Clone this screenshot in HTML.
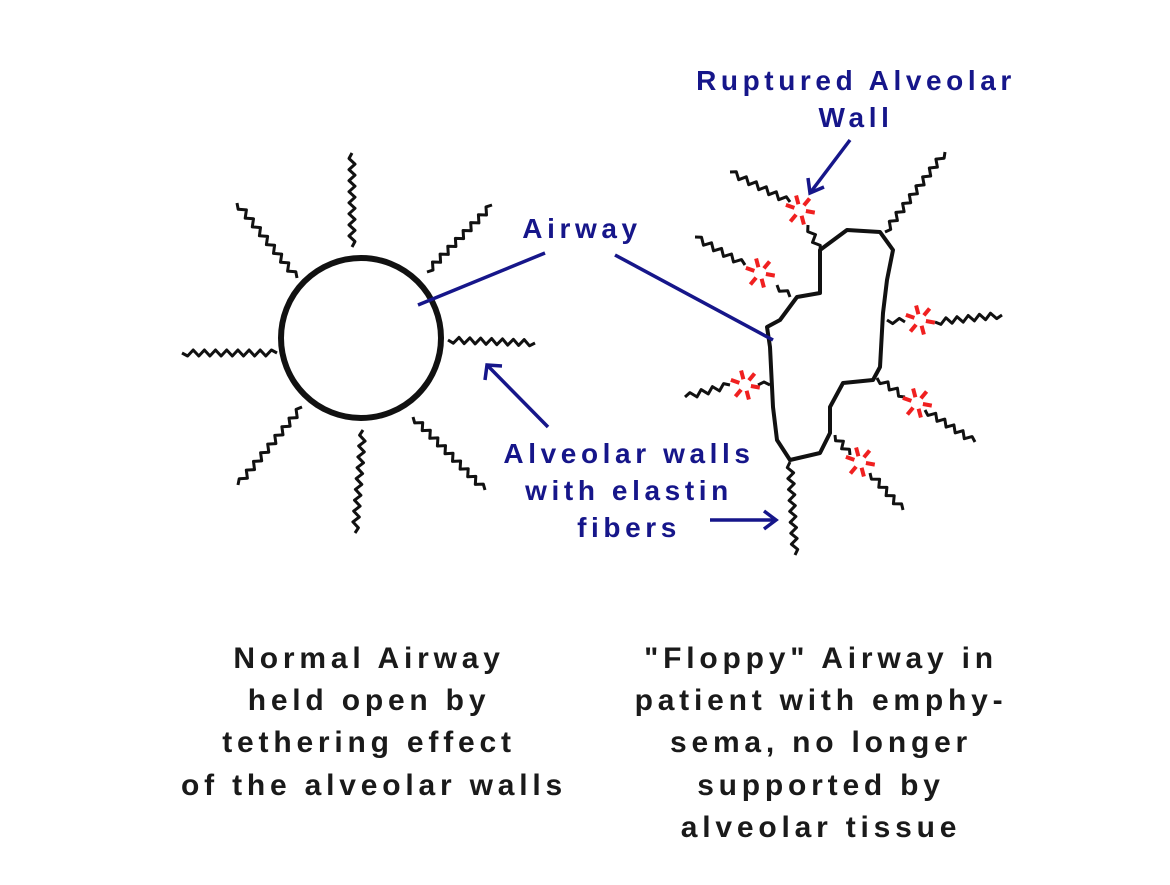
<!DOCTYPE html>
<html><head><meta charset="utf-8"><style>
html,body{margin:0;padding:0;background:#fff;}
svg{display:block;}
.b{font-family:"Liberation Sans",Arial,sans-serif;font-weight:bold;fill:#16168a;font-size:28px;letter-spacing:4.6px;}
.k{font-family:"Liberation Sans",Arial,sans-serif;font-weight:bold;fill:#1a1a1a;font-size:30px;letter-spacing:4.8px;}
</style></head><body>
<svg id="s" width="1170" height="885" viewBox="0 0 1170 885" xmlns="http://www.w3.org/2000/svg">
<circle cx="361" cy="338" r="80" fill="none" stroke="#111" stroke-width="6"/>
<path d="M767,327 L780,320 L797,297 L820,293 L820,250 L847,230 L880,232 L893,250 L887,280 L883,313 L880,367 L873,380 L843,383 L830,407 L830,433 L820,453 L790,460 L777,440 L773,407 L770,347 Z" fill="none" stroke="#111" stroke-width="4" stroke-linejoin="round"/>
<g id="w" fill="none" stroke="#111" stroke-width="3" stroke-linejoin="round"></g>
<g id="r" stroke="#f02020" stroke-width="4" stroke-linecap="butt"></g>
<g stroke="#16168a" stroke-width="3.5" fill="none">
<line x1="545" y1="253" x2="418" y2="305"/>
<line x1="615" y1="255" x2="773" y2="340"/>
<line x1="850" y1="140" x2="810" y2="193"/>
<polyline points="808,178 810,193 824,187"/>
<line x1="548" y1="427" x2="487" y2="365"/>
<polyline points="485,380 487,365 502,366"/>
<line x1="710" y1="520" x2="776" y2="520"/>
<polyline points="764,511 776,520 764,529"/>
</g>
<text class="b" x="582" y="238" text-anchor="middle">Airway</text>
<text class="b" x="856" y="90" text-anchor="middle">Ruptured Alveolar</text>
<text class="b" x="856" y="127" text-anchor="middle">Wall</text>
<text class="b" x="629" y="463" text-anchor="middle">Alveolar walls</text>
<text class="b" x="629" y="500" text-anchor="middle">with elastin</text>
<text class="b" x="629" y="537" text-anchor="middle">fibers</text>
<g class="k" text-anchor="middle">
<text x="369" y="668">Normal Airway</text>
<text x="369" y="710">held open by</text>
<text x="369" y="752">tethering effect</text>
<text x="374" y="795">of the alveolar walls</text>
<text x="821" y="668">"Floppy" Airway in</text>
<text x="821" y="710">patient with emphy-</text>
<text x="821" y="752">sema, no longer</text>
<text x="821" y="795">supported by</text>
<text x="821" y="837">alveolar tissue</text>
</g>
</svg>
<script>
var NS="http://www.w3.org/2000/svg";
function zz(x1,y1,x2,y2,a,wl){
 var dx=x2-x1,dy=y2-y1,L=Math.hypot(dx,dy),ux=dx/L,uy=dy/L,nx=-uy,ny=ux;
 var n=Math.max(2,Math.round(L/(wl/2))),d="M"+x1+","+y1;
 for(var i=1;i<n;i++){var t=i/n,s=(i%2?1:-1)*a;d+=" L"+(x1+dx*t+nx*s).toFixed(1)+","+(y1+dy*t+ny*s).toFixed(1);}
 d+=" L"+x2+","+y2;
 var p=document.createElementNS(NS,"path");p.setAttribute("d",d);document.getElementById("w").appendChild(p);
}
var W=[[352,247,352,153],[427,272,492,205],[448,340,535,343],[413,417,485,490],[363,430,355,533],[302,407,238,485],[277,353,182,353],[297,278,237,203],
[820,252,808,225],[790,202,730,172],[790,297,777,285],[745,265,695,237],[885,232,945,152],[887,320,905,322],[935,322,1002,315],
[770,385,758,385],[730,385,685,397],[877,378,905,397],[925,410,975,442],[835,435,850,455],[870,473,903,510],[790,462,795,555]];
W.forEach(function(w){zz(w[0],w[1],w[2],w[3],3,11);});
var R=[[800,210],[760,273],[920,320],[745,385],[917,403],[860,462]];
var g=document.getElementById("r");
R.forEach(function(c){
 [10,75,130,200,255,310].forEach(function(a){
  var r=a*Math.PI/180,l=document.createElementNS(NS,"line");
  l.setAttribute("x1",(c[0]+Math.cos(r)*6).toFixed(1));l.setAttribute("y1",(c[1]+Math.sin(r)*6).toFixed(1));
  l.setAttribute("x2",(c[0]+Math.cos(r)*15).toFixed(1));l.setAttribute("y2",(c[1]+Math.sin(r)*15).toFixed(1));
  g.appendChild(l);
 });
});
</script>
</body></html>
